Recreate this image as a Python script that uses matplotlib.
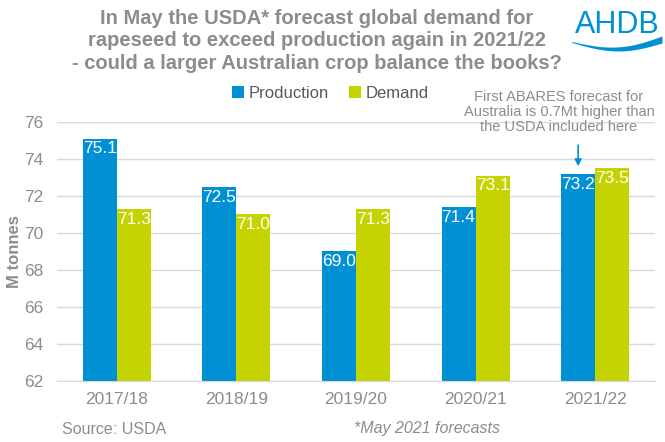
import numpy as np
import matplotlib.pyplot as plt

plt.rcParams['font.family'] = ['Liberation Sans', 'DejaVu Sans']

seasons = ['2017/18', '2018/19', '2019/20', '2020/21', '2021/22']
production = [75.1, 72.5, 69.0, 71.4, 73.2]
demand = [71.3, 71.0, 71.3, 73.1, 73.5]

blue = '#0090D4'
green = '#C5D300'
grey = '#8C8C8C'

fig = plt.figure(figsize=(6.65, 4.42), dpi=100)
ax = fig.add_axes([57/665, 1 - 381/442, 598/665, 259/442])

x = np.arange(len(seasons))
w = 0.285
ax.bar(x - w/2, np.array(production) - 62, w, bottom=62, color=blue, label='Production')
ax.bar(x + w/2, np.array(demand) - 62, w, bottom=62, color=green, label='Demand')

for xi, v in zip(x, production):
    ax.text(xi - w/2, v - 0.15, f'{v:.1f}', ha='center', va='top', color='white', fontsize=12.5)
for xi, v in zip(x, demand):
    ax.text(xi + w/2, v - 0.15, f'{v:.1f}', ha='center', va='top', color='white', fontsize=12.5)

ax.set_xlim(-0.5, 4.5)
ax.set_ylim(62, 76)
ax.set_yticks(range(62, 77, 2))
ax.set_xticks(x)
ax.set_xticklabels(seasons)
ax.grid(axis='y', color='#D9D9D9', linewidth=1)
ax.set_axisbelow(True)
for s in ['top', 'right', 'left']:
    ax.spines[s].set_visible(False)
ax.spines['bottom'].set_color('#D9D9D9')
ax.tick_params(axis='both', length=0, colors=grey, labelsize=12.5)
ax.tick_params(axis='x', pad=8)
ax.tick_params(axis='y', pad=10)
fig.text(15/665, 1 - 252/442, 'M tonnes', rotation=90, ha='center', va='center',
         color=grey, fontsize=12, fontweight='bold')

leg = ax.legend(loc='center', bbox_to_anchor=(0.457, 1 + 29/259), ncol=2, frameon=False,
                fontsize=12, handlelength=0.7, handleheight=0.7, handletextpad=0.3,
                columnspacing=1.2, borderaxespad=0.0, borderpad=0.0)
for t in leg.get_texts():
    t.set_color('#595959')

ax.annotate('', xy=(4 - w/2, 73.45), xytext=(4 - w/2, 74.9),
            arrowprops=dict(arrowstyle='-|>', color=blue, lw=1.2, mutation_scale=10),
            annotation_clip=False)
fig.text(559/665, 1 - 112/442, 'First ABARES forecast for\nAustralia is 0.7Mt higher than\nthe USDA included here',
         ha='center', va='center', color=grey, fontsize=10.5, linespacing=1.1)

fig.text(317/665, 1 - 41/442,
         'In May the USDA* forecast global demand for\nrapeseed to exceed production again in 2021/22\n- could a larger Australian crop balance the books?',
         ha='center', va='center', color=grey, fontsize=14.5, fontweight='bold', linespacing=1.25)

# logo
lax = fig.add_axes([0, 0, 1, 1], facecolor='none')
lax.set_xlim(0, 665)
lax.set_ylim(442, 0)
lax.axis('off')
lax.text(617, 25, 'AHDB', ha='center', va='center', color=blue, fontsize=22)
t = np.linspace(0, 1, 80)
lx = 572 + 90 * t
yc = 42 + 9 * np.sin(np.pi * t * 0.95) - 4 * t
th = 1 + 6 * t
lax.fill_between(lx, yc - th / 2, yc + th / 2, color=blue, linewidth=0)

fig.text(62/665, 1 - 429/442, 'Source: USDA', ha='left', va='center', color=grey, fontsize=11.5)
fig.text(427/665, 1 - 429/442, '*May 2021 forecasts', ha='center', va='center', color=grey,
         fontsize=11.5, style='italic')

fig.savefig('out.png', dpi=100)
